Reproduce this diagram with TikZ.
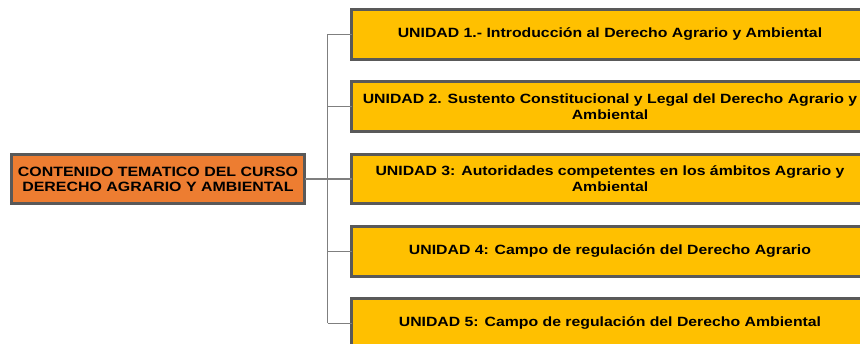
\documentclass[tikz,border=0pt]{standalone}
\usepackage{fontspec}
\setmainfont{Liberation Sans}
\newfontfamily\widefont[FakeStretch=1.18]{Liberation Sans}
\definecolor{boxorange}{HTML}{ED7D31}
\definecolor{boxgold}{HTML}{FFC000}
\definecolor{boxborder}{HTML}{595959}
\definecolor{linkgray}{HTML}{7F7F7F}
\begin{document}
\begin{tikzpicture}[x=1pt,y=-1pt,
  basebox/.style={draw=boxborder, line width=3pt, inner sep=0pt, outer sep=0pt, align=center, anchor=north west},
  rootbox/.style={basebox, fill=boxorange, minimum width=293pt, minimum height=49.5pt, font=\widefont\bfseries\fontsize{13.5}{15}\selectfont},
  unitbox/.style={basebox, fill=boxgold, minimum width=517pt, minimum height=49.5pt, font=\widefont\bfseries\fontsize{13.4}{16}\selectfont},
  link/.style={draw=linkgray, line width=1.3pt}]
\useasboundingbox (0,0) rectangle (860,343);
\clip (0,0) rectangle (860,343);
\fill[white] (0,0) rectangle (860,343);
\node[rootbox] (root) at (11.5,154.2) {CONTENIDO TEMATICO DEL CURSO\\DERECHO AGRARIO Y AMBIENTAL};
\node[unitbox] (u1) at (351.5,9.5) {UNIDAD 1.- Introducción al Derecho Agrario y Ambiental};
\node[unitbox] (u2) at (351.5,81.5) {UNIDAD 2. Sustento Constitucional y Legal del Derecho Agrario y\\Ambiental};
\node[unitbox] (u3) at (351.5,154.2) {UNIDAD 3: Autoridades competentes en los ámbitos Agrario y\\Ambiental};
\node[unitbox] (u4) at (351.5,226.5) {UNIDAD 4: Campo de regulación del Derecho Agrario};
\node[unitbox] (u5) at (351.5,298.5) {UNIDAD 5: Campo de regulación del Derecho Ambiental};
\coordinate (bus) at (327.5,0);
\draw[link] (root.east) -- (root.east -| bus);
\draw[link] (u1.west -| bus) -- (u5.west -| bus);
\foreach \u in {u1,u2,u3,u4,u5} \draw[link] (\u.west -| bus) -- (\u.west);
\end{tikzpicture}
\end{document}
